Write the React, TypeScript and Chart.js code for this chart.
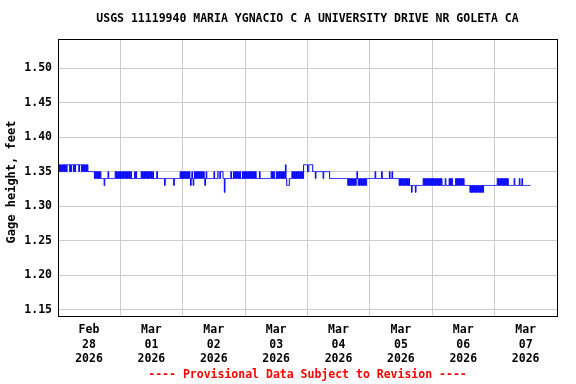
import React, { useEffect, useRef } from 'react';
import { Chart, registerables } from 'chart.js';

Chart.register(...registerables);

const TITLE = 'USGS 11119940 MARIA YGNACIO C A UNIVERSITY DRIVE NR GOLETA CA';
const FOOTER = '---- Provisional Data Subject to Revision ----';
const Y_TITLE = 'Gage height, feet';

// x tick labels (one per day, day 0 = Feb 28 2026 00:00)
const dayMonths = ['Feb', 'Mar', 'Mar', 'Mar', 'Mar', 'Mar', 'Mar', 'Mar'];
const dayDates = ['28', '01', '02', '03', '04', '05', '06', '07'];
const dayYears = ['2026', '2026', '2026', '2026', '2026', '2026', '2026', '2026'];
const dayEdges = [0, 1, 2, 3, 4, 5, 6, 7, 8];

// y ticks (feet)
const yTicks = [1.15, 1.2, 1.25, 1.3, 1.35, 1.4, 1.45, 1.5];
const yMin = 1.141;
const yMax = 1.542;

// Gage height readings, every 15 minutes.
// Each character is the hundredths digit of 1.3x ft ("4" = 1.34 ft).
const readingsPerDay = 96;
const gageFeb28 =
  '65656565656565' + '6666' + '5656' + '66' + '5656' + '6666' + '56' + '66' + '5656565656' +
  '5555555555' + '4545454545' + '4444' + '43' + '4444' + '45' + '4444444444' + '54545454';
const gageMar01 =
  '545454545454545454' + '4444' + '5454' + '444444' + '54545454545454545454' + '4444' + '54' +
  '4444444444' + '34' + '444444444444' + '34' + '44444444' + '5454';
const gageMar02 =
  '545454545454' + '34' + '54' + '34' + '5454545454545454' + '34' + '54' + '4444444444' + '54' +
  '4444' + '55445555' + '44' + '24' + '44444444' + '54' + '44' + '545454545454' + '44' + '5454';
const gageMar03 =
  '545454545454545454' + '4444' + '54' + '4444444444444444' + '545454' + '44' + '54545454545454' +
  '64' + '3333' + '4444' + '545454545454545454' + '666666';
const gageMar04 =
  '55' + '666666' + '5555' + '45' + '5555555555' + '45' + '55555555' + '4444444444444444444444444444' +
  '34343434343434' + '54' + '34343434343434' + '4444';
const gageMar05 =
  '44444444' + '54' + '44444444' + '54' + '4444444444' + '544454' + '44444444' + '434343434343434343' +
  '33' + '23' + '3333' + '23' + '3333333333' + '43434343434343';
const gageMar06 =
  '4343434343434343' + '3333' + '43' + '3333' + '434343' + '3333' + '43434343434343' + '33333333' +
  '2323232323232323232323' + '3333333333333333';
const gageMar07 = '3333' + '434343434343434343' + '33333333' + '43' + '333333' + '43' + '33' + '43' + '333333333333';
const gageDays = [gageFeb28, gageMar01, gageMar02, gageMar03, gageMar04, gageMar05, gageMar06, gageMar07];

const FONT_FAMILY = '"DejaVu Sans Mono", "Liberation Mono", monospace';
const FONT_SIZE = 11.5;

function buildPoints() {
  const pts: { x: number; y: number }[] = [];
  gageDays.forEach((day, d) => {
    for (let i = 0; i < day.length; i++) {
      pts.push({ x: d + i / readingsPerDay, y: Number('1.3' + day[i]) });
    }
  });
  return pts;
}

const framePlugin = {
  id: 'frameAndTexts',
  afterDraw(chart: any) {
    const { ctx, chartArea } = chart;
    const { left, top, right, bottom } = chartArea;
    ctx.save();
    ctx.strokeStyle = '#000000';
    ctx.lineWidth = 1;
    ctx.strokeRect(left + 0.5, top + 0.5, right - left, bottom - top);
    const cx = (left + right) / 2;
    ctx.font = `bold ${FONT_SIZE}px ${FONT_FAMILY}`;
    ctx.textAlign = 'center';
    ctx.textBaseline = 'middle';
    ctx.fillStyle = '#000000';
    ctx.fillText(TITLE, cx, 19);
    ctx.save();
    ctx.translate(12, 182);
    ctx.rotate(-Math.PI / 2);
    ctx.font = `bold 12px ${FONT_FAMILY}`;
    ctx.fillText(Y_TITLE, 0, 0);
    ctx.restore();
    ctx.fillStyle = '#ff0000';
    ctx.fillText(FOOTER, cx, 375);
    ctx.restore();
  },
};

export default function App() {
  const ref = useRef<HTMLCanvasElement | null>(null);

  useEffect(() => {
    if (!ref.current) return;
    const font = { family: FONT_FAMILY, size: FONT_SIZE, weight: 'bold' as const, lineHeight: 1.25 };
    const chart = new Chart(ref.current, {
      type: 'line',
      data: {
        datasets: [
          {
            data: buildPoints(),
            borderColor: '#0000ff',
            backgroundColor: '#0000ff',
            borderWidth: 1,
            pointRadius: 0,
            stepped: true,
            fill: false,
          },
        ],
      },
      options: {
        animation: false,
        responsive: false,
        devicePixelRatio: 1,
        parsing: false,
        layout: { padding: { top: 39, right: 19, left: 0, bottom: 0 } },
        plugins: {
          legend: { display: false },
          tooltip: { enabled: false },
          title: { display: false },
        },
        scales: {
          x: {
            type: 'linear',
            min: 0,
            max: 8,
            afterFit: (s: any) => {
              s.height = 68;
            },
            afterBuildTicks: (s: any) => {
              s.ticks = dayEdges.map((v) => ({ value: v }));
            },
            grid: { color: '#cccccc', lineWidth: 1, drawTicks: false },
            border: { display: false },
            ticks: {
              autoSkip: false,
              maxRotation: 0,
              minRotation: 0,
              labelOffset: 31,
              padding: 7,
              color: '#000000',
              font,
              callback: (_v: any, i: number) =>
                i < dayDates.length ? [dayMonths[i], dayDates[i], dayYears[i]] : '',
            },
          },
          y: {
            type: 'linear',
            min: yMin,
            max: yMax,
            afterFit: (s: any) => {
              s.width = 58;
            },
            afterBuildTicks: (s: any) => {
              s.ticks = yTicks.map((v) => ({ value: v }));
            },
            grid: { color: '#cccccc', lineWidth: 1, drawTicks: false },
            border: { display: false },
            ticks: {
              padding: 6,
              color: '#000000',
              font,
              callback: (v: any) => Number(v).toFixed(2),
            },
          },
        },
      },
      plugins: [framePlugin],
    });
    return () => chart.destroy();
  }, []);

  return (
    <div style={{ position: 'fixed', left: 0, top: 0, width: 576, height: 384, background: '#ffffff' }}>
      <canvas ref={ref} width={576} height={384} />
    </div>
  );
}
